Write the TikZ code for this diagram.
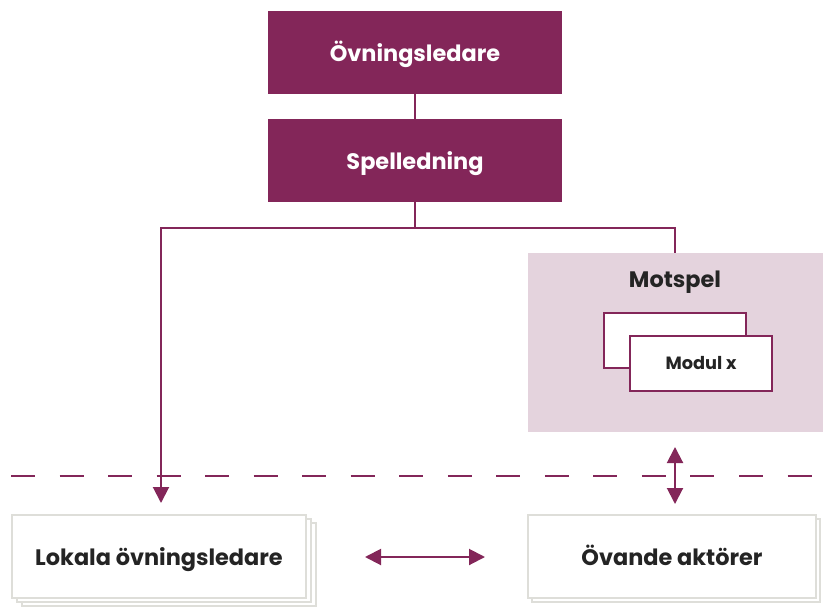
\documentclass[tikz,border=0pt]{standalone}
\usepackage{fontspec}
\setmainfont{Poppins}
\usetikzlibrary{arrows.meta}
\definecolor{plum}{RGB}{131,38,89}
\definecolor{blush}{RGB}{228,211,221}
\definecolor{rim}{RGB}{222,222,217}
\definecolor{ink}{RGB}{36,36,36}
\tikzset{
  bigtext/.style={font=\fontsize{16.8}{19}\selectfont\bfseries, text height=14pt, text depth=0pt},
  headbox/.style={fill=plum, draw=none, text=white, bigtext,
    minimum width=220.5pt, minimum height=62.25pt, inner sep=0pt},
  actorbox/.style={fill=white, draw=rim, line width=1.5pt, text=ink, bigtext,
    minimum width=220.5pt, minimum height=62.25pt, inner sep=0pt},
  ghostbox/.style={fill=white, draw=rim, line width=1.5pt, minimum width=220.5pt, minimum height=62.25pt},
  modbox/.style={fill=white, draw=plum, line width=1.8pt, text=ink,
    font=\fontsize{13.3}{15}\selectfont\bfseries, minimum width=106.5pt, minimum height=41.25pt, inner sep=0pt},
  link/.style={draw=plum, line width=1.5pt},
  flow/.style={link, -{Triangle[width=12pt,length=12pt]}},
  twoway/.style={link, {Triangle[width=12pt,length=12pt]}-{Triangle[width=12pt,length=12pt]}},
}
\begin{document}
\begin{tikzpicture}[x=0.75pt, y=-0.75pt]
  \useasboundingbox (0,0) rectangle (823,606);

  % leadership chain
  \node[headbox] (lead) at (415,52.5) {Övningsledare};
  \node[headbox] (spel) at (415,160.5) {Spelledning};

  % counterplay area with its modules
  \node[fill=blush, minimum width=221.25pt, minimum height=134.25pt, inner sep=0pt] (mot) at (675.5,342.5) {};
  \node[text=ink, bigtext] (motlabel) at (675,278) {Motspel};
  \node[modbox] (modback) at (675,340.5) {};
  \node[modbox] (mod) at (701,363.5) {Modul x};

  % separator between the game side and the players
  \draw[plum, line width=1.5pt, dash pattern=on 18pt off 18.4pt] (11,476) coordinate (sepL) -- (812,476) coordinate (sepR);

  % local leaders, drawn as a stack
  \node[ghostbox] (lokb2) at (169,564.5) {};
  \node[ghostbox] (lokb1) at (164,560.5) {};
  \node[actorbox] (lok) at (159,556.5) {Lokala övningsledare};

  % exercising actors, drawn as a stack
  \node[ghostbox, minimum width=216pt] (ovab) at (676,560.5) {};
  \node[actorbox, minimum width=216pt] (ova) at (672,556.5) {Övande aktörer};

  % connectors
  \coordinate (bus) at (415,228);
  \coordinate (lokin) at (161,503);
  \coordinate (motout) at (675,447);
  \coordinate (ovain) at (675,504);
  \coordinate (lokout) at (365,557);
  \coordinate (ovaout) at (485,557);

  \draw[link] (lead.south) -- (spel.north);
  \draw[link] (spel.south) -- (bus);
  \draw[flow] (bus) -| (lokin);
  \draw[link] (bus) -| (mot.north -| motout);
  \draw[twoway] (motout) -- (ovain);
  \draw[twoway] (lokout) -- (ovaout);
\end{tikzpicture}
\end{document}
